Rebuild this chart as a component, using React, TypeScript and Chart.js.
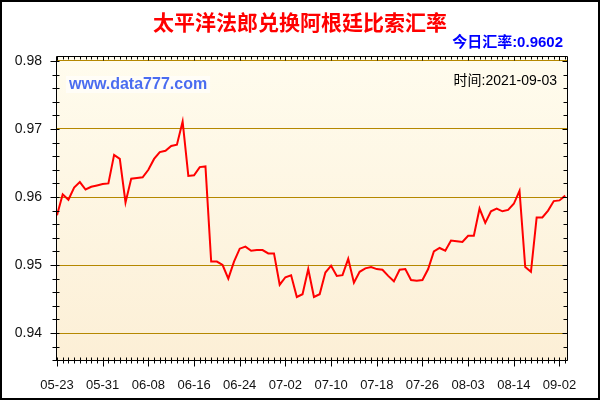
import React, { useEffect, useRef } from 'react';
import { Chart, registerables } from 'chart.js';

Chart.register(...registerables);

const TITLE = '太平洋法郎兑换阿根廷比索汇率';
const TODAY_RATE = '今日汇率:0.9602';
const WATERMARK = 'www.data777.com';
const DATE_TEXT = '时间:2021-09-03';

// x-axis labels, one every POINTS_PER_LABEL points
const tickLabels = ['05-23', '05-31', '06-08', '06-16', '06-24', '07-02', '07-10', '07-18', '07-26', '08-03', '08-14', '09-02'];
const POINTS_PER_LABEL = 8;

// exchange rate series (90 points)
const rates = [
  0.9573, 0.9604, 0.9596, 0.9614, 0.9622, 0.9611, 0.9615, 0.9617, 0.9619, 0.9620,
  0.9662, 0.9656, 0.9592, 0.9627, 0.9628, 0.9629, 0.9640, 0.9656, 0.9666, 0.9668,
  0.9675, 0.9677, 0.9711, 0.9631, 0.9632, 0.9644, 0.9645, 0.9505, 0.9505, 0.9500,
  0.9480, 0.9505, 0.9524, 0.9527, 0.9521, 0.9522, 0.9522, 0.9517, 0.9517, 0.9471,
  0.9482, 0.9485, 0.9453, 0.9457, 0.9494, 0.9453, 0.9457, 0.9489, 0.9499, 0.9484,
  0.9485, 0.9509, 0.9474, 0.9490, 0.9495, 0.9497, 0.9494, 0.9493, 0.9484, 0.9476,
  0.9493, 0.9494, 0.9478, 0.9477, 0.9478, 0.9494, 0.9520, 0.9525, 0.9521, 0.9536,
  0.9535, 0.9534, 0.9543, 0.9543, 0.9583, 0.9562, 0.9579, 0.9583, 0.9579, 0.9581,
  0.9590, 0.9609, 0.9497, 0.9490, 0.9570, 0.9570, 0.9580, 0.9594, 0.9595, 0.9602,
];

// y-axis tick labels
const yTicks = [0.94, 0.95, 0.96, 0.97, 0.98];
const Y_MIN = 0.93603;
const Y_MAX = 0.980735;
const Y_MINOR_STEP = 0.002;

const LATIN = "'Liberation Sans', 'Noto Sans CJK SC', sans-serif";
const CJK = "'Noto Sans CJK SC', sans-serif";

const decor = {
  id: 'decor',
  beforeDraw(chart: any) {
    const { ctx, chartArea: a, width, height } = chart;
    ctx.save();
    ctx.fillStyle = '#ffffff';
    ctx.fillRect(0, 0, width, height);
    const g = ctx.createLinearGradient(0, a.top, 0, a.bottom);
    g.addColorStop(0, '#fffcee');
    g.addColorStop(1, '#fcefd6');
    ctx.fillStyle = g;
    ctx.fillRect(a.left, a.top, a.right - a.left, a.bottom - a.top);
    ctx.restore();
  },
  afterDraw(chart: any) {
    const { ctx, chartArea: a, scales } = chart;
    const xs = scales.x;
    const ys = scales.y;
    ctx.save();
    ctx.strokeStyle = '#000';
    ctx.lineWidth = 1;
    const L = Math.round(a.left) + 0.5;
    const R = Math.round(a.right) - 0.5;
    const T = Math.round(a.top) + 0.5;
    const B = Math.round(a.bottom) + 0.5;
    ctx.beginPath();
    ctx.moveTo(L, T); ctx.lineTo(R, T); ctx.lineTo(R, B); ctx.lineTo(L, B); ctx.closePath();
    // x ticks (bottom and top)
    for (let i = 0; i < rates.length; i++) {
      const x = Math.round(xs.getPixelForValue(i)) + 0.5;
      const major = i % POINTS_PER_LABEL === 0;
      ctx.moveTo(x, B - 3);
      ctx.lineTo(x, B + (major ? 6 : 3));
      ctx.moveTo(x, T);
      ctx.lineTo(x, T + (major ? 4 : 3));
    }
    // y ticks (left and right)
    for (let k = 0; k <= 30; k++) {
      const v = Y_MIN - (Y_MIN % Y_MINOR_STEP) + k * Y_MINOR_STEP;
      const y = Math.round(ys.getPixelForValue(v)) + 0.5;
      if (y > B || y < T) continue;
      const major = Math.abs(v * 100 - Math.round(v * 100)) < 1e-6;
      ctx.moveTo(L - (major ? 6 : 4), y);
      ctx.lineTo(L + 3, y);
      ctx.moveTo(R, y);
      ctx.lineTo(R - (major ? 5 : 4), y);
    }
    ctx.stroke();

    // texts
    ctx.textBaseline = 'middle';
    ctx.fillStyle = '#ff0000';
    ctx.textAlign = 'center';
    ctx.font = `bold 21px ${CJK}`;
    ctx.fillText(TITLE, 300, 22);

    ctx.fillStyle = '#0000ff';
    ctx.textAlign = 'right';
    ctx.font = `bold 15px ${LATIN}`;
    ctx.fillText(TODAY_RATE, 563, 43);

    ctx.font = `bold 16px ${LATIN}`;
    const w = ctx.measureText(WATERMARK).width;
    ctx.fillStyle = 'rgba(255,255,255,0.6)';
    ctx.fillRect(66, 76, w + 6, 17);
    ctx.fillStyle = '#4a6cf0';
    ctx.textAlign = 'left';
    ctx.fillText(WATERMARK, 69, 85);

    ctx.fillStyle = '#000';
    ctx.textAlign = 'right';
    ctx.font = `14px ${LATIN}`;
    ctx.fillText(DATE_TEXT, 557, 81);

    ctx.lineWidth = 2;
    ctx.strokeStyle = '#000';
    ctx.strokeRect(1, 1, chart.width - 2, chart.height - 2);
    ctx.restore();
  },
};

export default function App() {
  const ref = useRef<HTMLCanvasElement>(null);
  useEffect(() => {
    document.body.style.margin = '0';
    const canvas = ref.current;
    if (!canvas) return;
    const chart = new Chart(canvas, {
      type: 'line',
      data: {
        datasets: [
          {
            data: rates.map((v, i) => ({ x: i, y: v })),
            borderColor: '#ff0000',
            borderWidth: 2,
            pointRadius: 0,
            tension: 0,
            fill: false,
          },
        ],
      },
      options: {
        responsive: false,
        animation: false,
        devicePixelRatio: 1,
        layout: { padding: { top: 56, right: 32, bottom: 0, left: 0 } },
        plugins: { legend: { display: false }, tooltip: { enabled: false }, title: { display: false } },
        scales: {
          x: {
            type: 'linear',
            min: -0.175,
            max: 89.49,
            grid: { display: false },
            border: { display: false },
            afterBuildTicks: (s: any) => {
              s.ticks = tickLabels.map((_, k) => ({ value: k * POINTS_PER_LABEL }));
            },
            afterFit: (s: any) => {
              s.height = 40;
            },
            ticks: {
              autoSkip: false,
              maxRotation: 0,
              padding: 10,
              color: '#111',
              font: { family: LATIN, size: 13 },
              callback: (v: any) => tickLabels[Math.round(Number(v) / POINTS_PER_LABEL)] ?? '',
            },
          },
          y: {
            type: 'linear',
            min: Y_MIN,
            max: Y_MAX,
            grid: { color: '#b58800', lineWidth: 1, drawTicks: false },
            border: { display: false },
            afterBuildTicks: (s: any) => {
              s.ticks = yTicks.map((v) => ({ value: v }));
            },
            afterFit: (s: any) => {
              s.width = 56;
            },
            ticks: {
              padding: 14,
              color: '#111',
              font: { family: LATIN, size: 14 },
              callback: (v: any) => Number(v).toFixed(2),
            },
          },
        },
      },
      plugins: [decor],
    });
    return () => chart.destroy();
  }, []);
  return (
    <div style={{ width: 600, height: 400 }}>
      <canvas ref={ref} width={600} height={400} style={{ display: 'block' }} />
    </div>
  );
}
